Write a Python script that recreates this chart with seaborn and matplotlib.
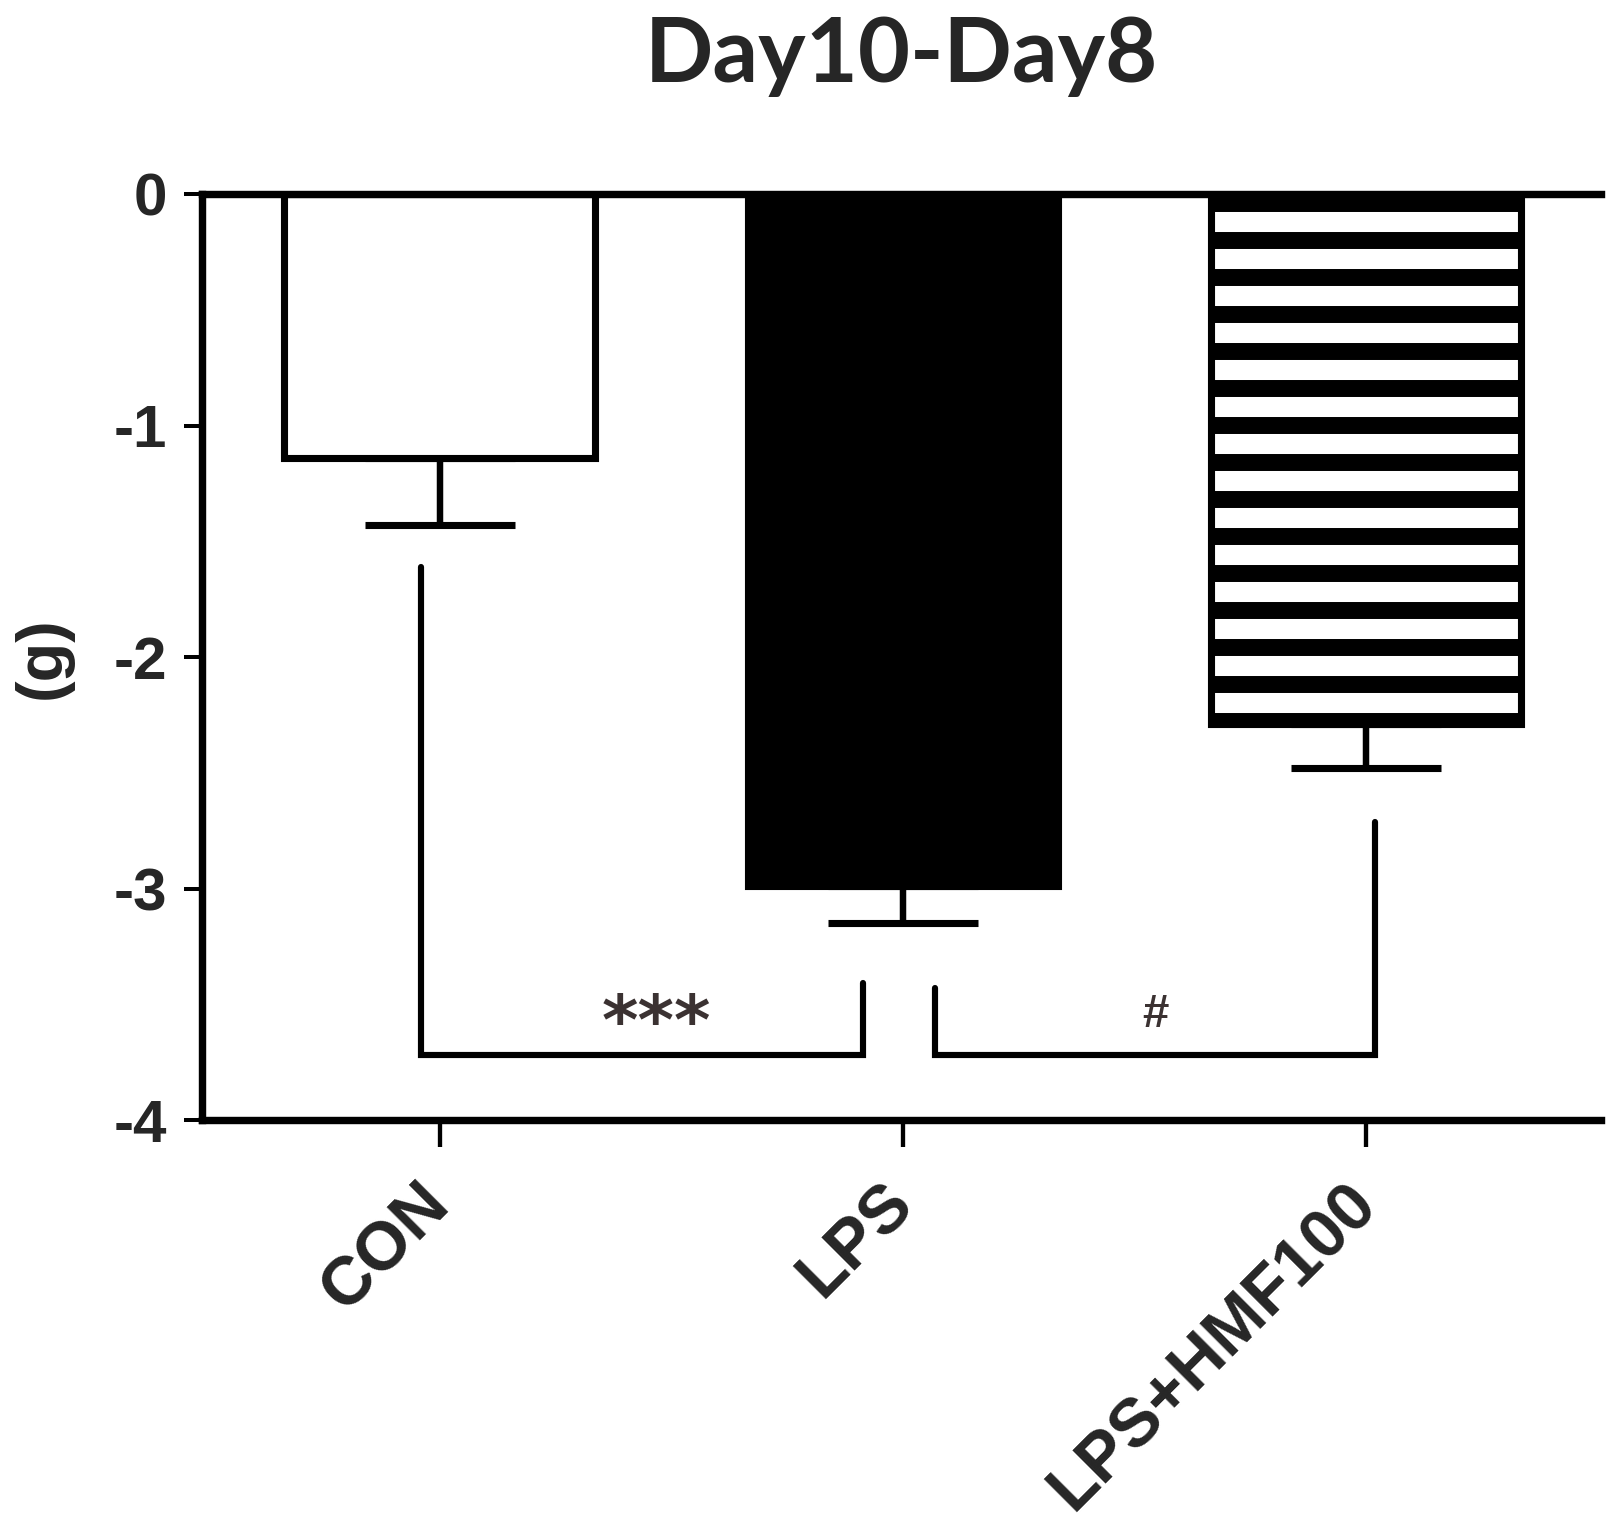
"""Body-weight change Day10 minus Day8, bar chart with significance brackets."""

import matplotlib

matplotlib.use("Agg")
import matplotlib.pyplot as plt
import pandas as pd
import seaborn as sns


GROUPS = ["CON", "LPS", "LPS+HMF100"]
MEAN_CHANGE = [-1.14, -2.99, -2.29]
SEM = [0.29, 0.16, 0.19]
Y_TICKS = [0, -1, -2, -3, -4]
Y_TICK_LABELS = ["0", "-1", "-2", "-3", "-4"]
COMPARISONS = [("CON", "LPS", "***"), ("LPS", "LPS+HMF100", "#")]

BAR_FACES = ["white", "black", "white"]
BAR_HATCHES = ["", "", "-"]
ARM_GAP = [0.18, 0.26, 0.23]
ARM_SHIFT = [(-0.04, -0.085), (0.07, 0.02)]
BRACKET_Y = -3.72
# 222 dpi puts matplotlib's "-" hatch at ~37 px spacing, like the original
DPI = 222


def main() -> None:
    sns.set_style("white")
    plt.rcParams["font.family"] = ["Liberation Sans", "DejaVu Sans"]
    plt.rcParams["font.weight"] = "bold"
    plt.rcParams["hatch.linewidth"] = 5.5

    df = pd.DataFrame({"group": GROUPS, "change": MEAN_CHANGE, "sem": SEM})

    fig = plt.figure(figsize=(1622 / DPI, 1523 / DPI), dpi=DPI)
    ax = fig.add_axes([0.1245, 0.2646, 0.8625, 0.6077])

    sns.barplot(data=df, x="group", y="change", order=GROUPS, errorbar=None,
                width=0.67, ax=ax, zorder=2)
    for patch, face, hatch in zip(ax.patches, BAR_FACES, BAR_HATCHES):
        patch.set_facecolor(face)
        patch.set_edgecolor("black")
        patch.set_linewidth(2.3)
        patch.set_hatch(hatch)
        patch.set_hatch_linewidth(5.5)

    xs = list(range(len(GROUPS)))
    ax.errorbar(xs, df["change"], yerr=[df["sem"], [0] * len(GROUPS)], fmt="none",
                ecolor="black", elinewidth=2.1, capsize=24.3, capthick=2.3, zorder=1)

    # significance brackets
    low_ends = [m - s for m, s in zip(MEAN_CHANGE, SEM)]
    for (a, b, label), (da, db) in zip(COMPARISONS, ARM_SHIFT):
        ia, ib = GROUPS.index(a), GROUPS.index(b)
        xa, xb = ia + da, ib + db
        ya = low_ends[ia] - ARM_GAP[ia]
        yb = low_ends[ib] - ARM_GAP[ib]
        if ia == 1:
            ya -= 0.02
        ax.plot([xa, xa, xb, xb], [ya, BRACKET_Y, BRACKET_Y, yb], color="black",
                lw=2.0, solid_joinstyle="miter", clip_on=False)
        if label == "***":
            ax.text((xa + xb) / 2 + 0.03, BRACKET_Y - 0.01, label, ha="center", va="bottom",
                    fontsize=22.7, color="#3b3232", family="DejaVu Sans", fontweight="bold")
        else:
            ax.text((xa + xb) / 2, BRACKET_Y + 0.08, label, ha="center", va="bottom",
                    fontsize=15.4, color="#3b3232", fontweight="bold")

    ax.set_ylim(-4, 0)
    ax.set_xlim(-0.513, 2.507)
    ax.set_yticks(Y_TICKS)
    ax.set_yticklabels(Y_TICK_LABELS, fontsize=19.5, fontweight="bold")
    ax.set_xticks(xs)
    ax.set_xticklabels(GROUPS, fontsize=22.1, fontweight="bold", rotation=45,
                       ha="right", va="center", rotation_mode="anchor")
    ax.tick_params(axis="y", length=5.7, width=1.3, pad=5.7, color="black", left=True)
    ax.tick_params(axis="x", length=8.9, width=1.4, pad=15, color="black", bottom=True)

    for side in ["left", "top", "bottom"]:
        ax.spines[side].set_visible(True)
        ax.spines[side].set_linewidth(2.4)
        ax.spines[side].set_color("black")
    ax.spines["right"].set_visible(False)

    ax.set_xlabel("")
    ax.set_ylabel("(g)", fontsize=21, fontweight="bold")
    ax.yaxis.set_label_coords(-0.092, 0.5)
    ax.set_title("Day10-Day8", fontsize=29.2, fontweight="bold", family=["Lato", "DejaVu Sans"],
                 pad=36.5)

    fig.savefig("out.png", dpi=DPI)
    plt.close(fig)


if __name__ == "__main__":
    main()
